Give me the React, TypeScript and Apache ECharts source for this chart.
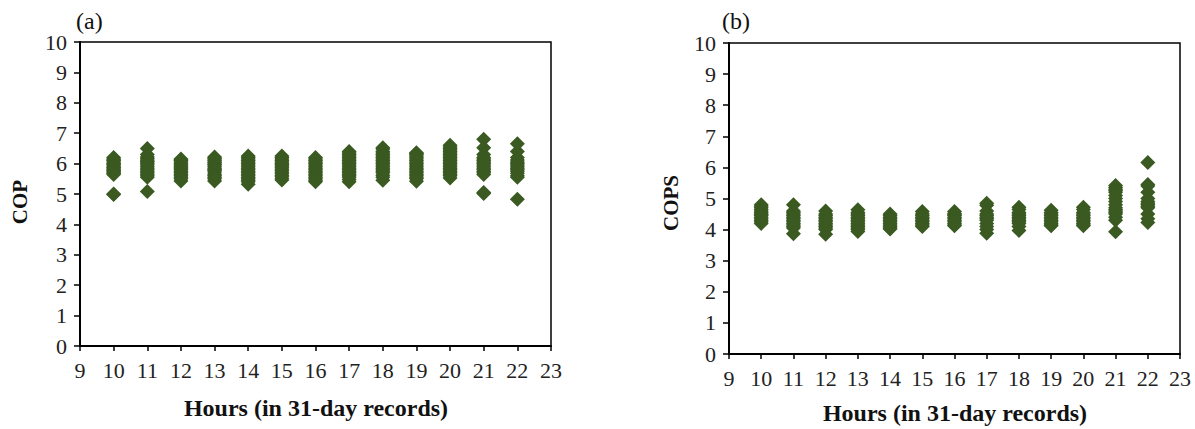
import React, { useEffect, useRef } from "react";
import * as echarts from "echarts";

const hours = [10, 11, 12, 13, 14, 15, 16, 17, 18, 19, 20, 21, 22];
const xTicks = [9, 10, 11, 12, 13, 14, 15, 16, 17, 18, 19, 20, 21, 22, 23];
const yTicks = [0, 1, 2, 3, 4, 5, 6, 7, 8, 9, 10];

// COP values per hour (panel a)
const cop10 = [6.2, 6.15, 6.12, 6.1, 6.05, 6.0, 5.98, 5.95, 5.9, 5.88, 5.85, 5.8, 5.78, 5.75, 5.7, 5.68, 5.64, 5.0, 4.98];
const cop11 = [6.5, 6.3, 6.22, 6.18, 6.12, 6.08, 6.05, 6.0, 5.95, 5.9, 5.85, 5.8, 5.75, 5.7, 5.65, 5.6, 5.55, 5.08];
const cop12 = [6.15, 6.12, 6.1, 6.05, 6.0, 5.95, 5.92, 5.88, 5.85, 5.8, 5.75, 5.7, 5.65, 5.6, 5.55, 5.5, 5.43];
const cop13 = [6.22, 6.18, 6.15, 6.1, 6.05, 6.02, 5.98, 5.95, 5.9, 5.85, 5.8, 5.78, 5.72, 5.65, 5.6, 5.55, 5.5, 5.43];
const cop14 = [6.25, 6.2, 6.15, 6.1, 6.05, 6.0, 5.95, 5.9, 5.85, 5.8, 5.75, 5.7, 5.65, 5.6, 5.55, 5.5, 5.45, 5.4, 5.32];
const cop15 = [6.25, 6.2, 6.15, 6.1, 6.05, 6.0, 5.96, 5.92, 5.88, 5.82, 5.78, 5.72, 5.68, 5.62, 5.58, 5.52, 5.46];
const cop16 = [6.2, 6.15, 6.1, 6.05, 6.0, 5.95, 5.9, 5.85, 5.8, 5.75, 5.7, 5.65, 5.6, 5.55, 5.5, 5.45, 5.4];
const cop17 = [6.4, 6.35, 6.3, 6.25, 6.2, 6.15, 6.1, 6.05, 6.0, 5.95, 5.9, 5.85, 5.8, 5.75, 5.7, 5.65, 5.6, 5.55, 5.48, 5.4];
const cop18 = [6.52, 6.48, 6.4, 6.35, 6.3, 6.25, 6.2, 6.15, 6.1, 6.05, 6.0, 5.95, 5.9, 5.85, 5.8, 5.75, 5.7, 5.62, 5.55, 5.45];
const cop19 = [6.36, 6.33, 6.3, 6.25, 6.2, 6.15, 6.1, 6.05, 6.0, 5.95, 5.9, 5.85, 5.8, 5.75, 5.7, 5.65, 5.6, 5.55, 5.5, 5.42];
const cop20 = [6.6, 6.55, 6.5, 6.45, 6.4, 6.35, 6.3, 6.25, 6.2, 6.15, 6.1, 6.05, 6.0, 5.95, 5.9, 5.85, 5.8, 5.75, 5.7, 5.65, 5.6, 5.53];
const cop21 = [6.8, 6.52, 6.3, 6.2, 6.15, 6.1, 6.05, 6.0, 5.95, 5.9, 5.85, 5.8, 5.75, 5.7, 5.64, 5.05, 5.02];
const cop22 = [6.65, 6.4, 6.2, 6.12, 6.05, 6.0, 5.95, 5.9, 5.85, 5.8, 5.75, 5.68, 5.6, 5.55, 4.83];

// COPS values per hour (panel b)
const cops10 = [4.8, 4.75, 4.7, 4.65, 4.6, 4.55, 4.5, 4.48, 4.45, 4.4, 4.35, 4.3, 4.25, 4.2];
const cops11 = [4.8, 4.6, 4.55, 4.5, 4.45, 4.4, 4.35, 4.3, 4.25, 4.2, 4.15, 4.1, 4.05, 3.87];
const cops12 = [4.6, 4.5, 4.45, 4.4, 4.35, 4.3, 4.25, 4.2, 4.15, 4.1, 4.05, 4.0, 3.85];
const cops13 = [4.64, 4.55, 4.5, 4.45, 4.4, 4.35, 4.3, 4.25, 4.2, 4.15, 4.1, 4.05, 4.0, 3.94];
const cops14 = [4.5, 4.45, 4.4, 4.35, 4.3, 4.25, 4.2, 4.15, 4.1, 4.05, 4.02];
const cops15 = [4.58, 4.5, 4.45, 4.4, 4.35, 4.3, 4.25, 4.2, 4.15, 4.1];
const cops16 = [4.58, 4.52, 4.48, 4.45, 4.4, 4.35, 4.3, 4.25, 4.2, 4.15, 4.12];
const cops17 = [4.85, 4.78, 4.6, 4.5, 4.45, 4.4, 4.35, 4.3, 4.2, 4.1, 4.0, 3.88];
const cops18 = [4.72, 4.65, 4.55, 4.5, 4.45, 4.4, 4.35, 4.3, 4.25, 4.2, 4.1, 3.97];
const cops19 = [4.62, 4.55, 4.5, 4.45, 4.4, 4.35, 4.3, 4.25, 4.2, 4.15, 4.12];
const cops20 = [4.72, 4.65, 4.55, 4.5, 4.45, 4.4, 4.35, 4.3, 4.25, 4.2, 4.15, 4.12];
const cops21 = [5.42, 5.35, 5.3, 5.25, 5.2, 5.1, 5.0, 4.9, 4.8, 4.7, 4.65, 4.6, 4.55, 4.5, 4.4, 4.3, 3.93];
const cops22 = [6.16, 5.45, 5.4, 5.2, 5.0, 4.9, 4.85, 4.8, 4.75, 4.7, 4.5, 4.35, 4.23];

const copByHour = [cop10, cop11, cop12, cop13, cop14, cop15, cop16, cop17, cop18, cop19, cop20, cop21, cop22];
const copsByHour = [cops10, cops11, cops12, cops13, cops14, cops15, cops16, cops17, cops18, cops19, cops20, cops21, cops22];

const panelLabels = ["(a)", "(b)"];
const yTitles = ["COP", "COPS"];
const xTitle = "Hours (in 31-day records)";

const GREEN = "#3a5a22";
const SERIF = "Liberation Serif";

function flatten(byHour: number[][]) {
  const out: number[][] = [];
  byHour.forEach((vals, i) => vals.forEach((v) => out.push([hours[i], v])));
  return out;
}

function xAxisCfg(gridIndex: number) {
  return {
    type: "value",
    gridIndex,
    min: xTicks[0],
    max: xTicks[xTicks.length - 1],
    interval: 1,
    axisLine: { show: true, onZero: false, lineStyle: { color: "#000", width: 2 } },
    axisTick: { show: true, inside: false, length: 5, lineStyle: { color: "#000", width: 1.5 } },
    axisLabel: { color: "#222", fontSize: 22, fontFamily: SERIF, margin: 13 },
    splitLine: { show: false },
  };
}

function yAxisCfg(gridIndex: number) {
  return {
    type: "value",
    gridIndex,
    min: yTicks[0],
    max: yTicks[yTicks.length - 1],
    interval: 1,
    axisLine: { show: true, onZero: false, lineStyle: { color: "#000", width: 2 } },
    axisTick: { show: true, inside: false, length: 6, lineStyle: { color: "#000", width: 1.5 } },
    axisLabel: { color: "#222", fontSize: 22, fontFamily: SERIF, margin: 13 },
    splitLine: { show: false },
  };
}

function textStyle(text: string, size: number, bold: boolean, center: boolean) {
  return {
    text,
    fontFamily: SERIF,
    fontSize: size,
    fontWeight: bold ? "bold" : "normal",
    fill: "#111",
    align: center ? "center" : "left",
    verticalAlign: center ? "middle" : "top",
  };
}

export default function App() {
  const ref = useRef<HTMLDivElement>(null);
  useEffect(() => {
    if (!ref.current) return;
    const chart = echarts.init(ref.current, undefined, { renderer: "svg" });
    chart.setOption({
      animation: false,
      backgroundColor: "#fff",
      grid: [
        { left: 80, top: 42, width: 471, height: 304, show: true, borderColor: "#000", borderWidth: 1.5, backgroundColor: "transparent" },
        { left: 729, top: 43, width: 451, height: 311, show: true, borderColor: "#000", borderWidth: 1.5, backgroundColor: "transparent" },
      ],
      xAxis: [xAxisCfg(0), xAxisCfg(1)],
      yAxis: [yAxisCfg(0), yAxisCfg(1)],
      series: [
        {
          type: "scatter",
          xAxisIndex: 0,
          yAxisIndex: 0,
          symbol: "diamond",
          symbolSize: 15,
          itemStyle: { color: GREEN, opacity: 1 },
          data: flatten(copByHour),
        },
        {
          type: "scatter",
          xAxisIndex: 1,
          yAxisIndex: 1,
          symbol: "diamond",
          symbolSize: 15,
          itemStyle: { color: GREEN, opacity: 1 },
          data: flatten(copsByHour),
        },
      ],
      graphic: [
        { type: "text", x: 76, y: 9, style: textStyle(panelLabels[0], 24, false, false) },
        { type: "text", x: 722, y: 9, style: textStyle(panelLabels[1], 24, false, false) },
        { type: "text", x: 316, y: 408, style: textStyle(xTitle, 24, true, true) },
        { type: "text", x: 955, y: 413, style: textStyle(xTitle, 24, true, true) },
        { type: "text", x: 20, y: 202, rotation: Math.PI / 2, style: textStyle(yTitles[0], 21, true, true) },
        { type: "text", x: 671, y: 203, rotation: Math.PI / 2, style: textStyle(yTitles[1], 21, true, true) },
      ],
    });
    return () => chart.dispose();
  }, []);
  return (
    <div
      ref={ref}
      style={{ position: "fixed", left: 0, top: 0, width: 1195, height: 429, background: "#fff" }}
    />
  );
}
